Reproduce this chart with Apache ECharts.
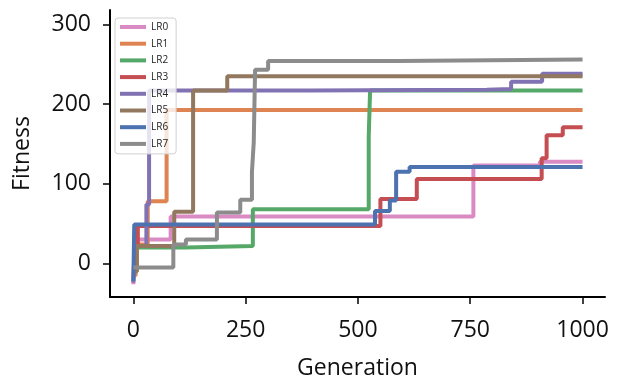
<!DOCTYPE html>
<html>
<head>
<meta charset="utf-8">
<script src="https://cdn.jsdelivr.net/npm/echarts@6/dist/echarts.min.js"></script>
<style>
  html, body { margin: 0; padding: 0; background: #fff; }
  #chart { width: 617px; height: 381px; }
</style>
</head>
<body>
<div id="chart"></div>
<script>
// step points: [generation, fitness] -> value holds until the next point
var names = ['LR0', 'LR1', 'LR2', 'LR3', 'LR4', 'LR5', 'LR6', 'LR7'];
var colors = ['#DA8BC3', '#DD8452', '#55A868', '#C44E52', '#8172B3', '#937860', '#4C72B0', '#8C8C8C'];

var lr0 = [[0, -26], [3, 30], [83, 59], [757, 123], [905, 127.5], [1000, 127.5]];
var lr1 = [[0, -15], [5, 24], [32, 78], [74, 192.5], [1000, 192.5]];
var lr2 = [[0, 20], [117, 22], [266, 68], [524, 159], [527, 217], [1000, 217]];
var lr3 = [[0, 20], [10, 47], [550, 81], [631, 106], [909, 132], [920, 161], [956, 171], [1000, 171]];
var lr4 = [[0, -24], [3, 22], [29, 74], [35, 217], [393, 218], [787, 219], [841, 228], [910, 238], [1000, 238]];
var lr5 = [[0, -10], [8, 22], [91, 65], [133, 217], [209, 235], [1000, 235]];
var lr6 = [[0, -22], [2, 49], [538, 66], [571, 79], [585, 115], [615, 121], [1000, 121]];
var lr7 = [[0, -5], [89, 24], [117, 30], [186, 64], [238, 80], [264, 115], [268, 152], [271, 243], [300, 254], [590, 256], [1000, 256]];

var allData = [lr0, lr1, lr2, lr3, lr4, lr5, lr6, lr7];
var xTicks = [0, 250, 500, 750, 1000];
var yTicks = [0, 100, 200, 300];

var font = 'Open Sans';

var series = names.map(function (n, i) {
  return {
    name: n,
    type: 'line',
    step: 'end',
    data: allData[i],
    symbol: 'none',
    lineStyle: { width: 4, color: colors[i] },
    itemStyle: { color: colors[i] },
    animation: false
  };
});

var option = {
  animation: false,
  grid: { left: 110, right: 12, top: 10, bottom: 84, outerBoundsMode: 'none' },
  legend: {
    orient: 'vertical',
    left: 115,
    top: 18,
    padding: [2, 8, 3, 5],
    icon: 'rect',
    itemWidth: 26,
    itemHeight: 4,
    itemGap: 2.7,
    borderColor: '#d0d0d0',
    borderWidth: 1,
    borderRadius: 3,
    backgroundColor: 'rgba(255,255,255,0.8)',
    textStyle: { fontSize: 10, lineHeight: 14, color: '#222', fontFamily: font },
    data: names
  },
  xAxis: {
    type: 'value',
    min: -52,
    max: 1050,
    name: 'Generation',
    nameLocation: 'middle',
    nameGap: 60,
    nameTextStyle: { fontSize: 23, color: '#111', fontFamily: font },
    splitLine: { show: false },
    axisLine: { show: true, onZero: false, lineStyle: { color: '#000', width: 2 } },
    axisTick: { show: true, length: 7, customValues: xTicks, lineStyle: { color: '#000', width: 1.5 } },
    axisLabel: {
      customValues: xTicks, fontSize: 23, color: '#111', margin: 22, fontFamily: font,
      formatter: function (v) { return String(v); }
    }
  },
  yAxis: {
    type: 'value',
    min: -42,
    max: 318,
    name: 'Fitness',
    nameLocation: 'middle',
    nameGap: 76,
    nameTextStyle: { fontSize: 23, color: '#111', fontFamily: font },
    splitLine: { show: false },
    axisLine: { show: true, onZero: false, lineStyle: { color: '#000', width: 2 } },
    axisTick: { show: true, length: 7, customValues: yTicks, lineStyle: { color: '#000', width: 1.5 } },
    axisLabel: {
      customValues: yTicks, fontSize: 23, color: '#111', margin: 19, fontFamily: font,
      formatter: function (v) { return String(v); }
    }
  },
  series: series
};

var myChart = echarts.init(document.getElementById('chart'));
myChart.setOption(option);
</script>
</body>
</html>
